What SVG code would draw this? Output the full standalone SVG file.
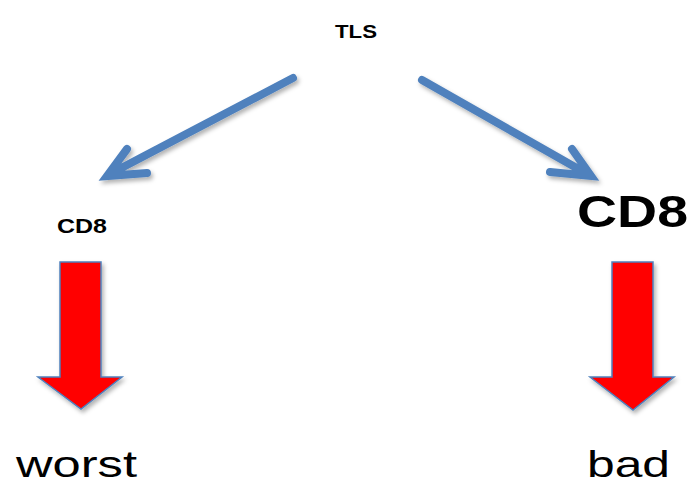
<svg xmlns="http://www.w3.org/2000/svg" width="694" height="485" viewBox="0 0 694 485">
<style>
.lbl{font-family:"Liberation Sans",Arial,sans-serif;fill:#000}
.b{font-weight:bold}
.blue{fill:none;stroke:#4F81BD;stroke-width:8;stroke-linecap:round;stroke-linejoin:miter}
.red{fill:#FF0000;stroke:#4F81BD;stroke-width:1.5}
</style>
<defs>
<filter id="sh" x="-20%" y="-20%" width="150%" height="150%">
<feDropShadow dx="2" dy="3" stdDeviation="2" flood-color="#000" flood-opacity="0.3"/>
</filter>
</defs>
<rect width="694" height="485" fill="#fff"/>
<g id="connectors" filter="url(#sh)">
<path class="blue" d="M293,78 L108,175 M127,149 L107,176 L147,173"/>
<path class="blue" d="M422,80 L589,175 M572,149 L591,176 L550,172"/>
<path class="red" d="M60,262 H101 V377 H122 L81,409 L38,377 H60 Z"/>
<path class="red" d="M612,262 H653 V377 H674 L633,410 L590,377 H612 Z"/>
</g>
<g id="tls"><text class="lbl b" x="335" y="38" font-size="18" textLength="42" lengthAdjust="spacingAndGlyphs">TLS</text></g>
<g id="cd8-left"><text class="lbl b" x="57" y="233" font-size="21" textLength="50" lengthAdjust="spacingAndGlyphs">CD8</text></g>
<g id="cd8-right"><text class="lbl b" x="577" y="227" font-size="44" textLength="111" lengthAdjust="spacingAndGlyphs">CD8</text></g>
<g id="worst"><text class="lbl" x="16" y="477" font-size="37" textLength="121" lengthAdjust="spacingAndGlyphs">worst</text></g>
<g id="bad"><text class="lbl" x="587" y="477" font-size="36" textLength="83" lengthAdjust="spacingAndGlyphs">bad</text></g>
</svg>
